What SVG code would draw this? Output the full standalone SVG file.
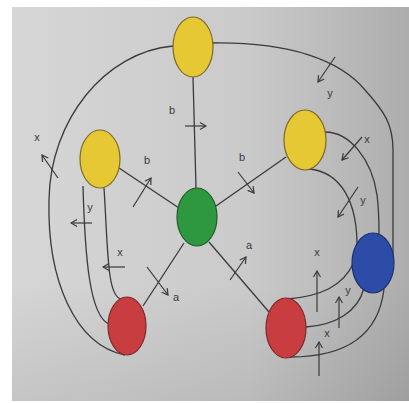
<svg xmlns="http://www.w3.org/2000/svg" width="409" height="403" viewBox="0 0 409 403">
  <style>
    .edge { fill: none; stroke: #3a3a3a; stroke-width: 1.3; }
    .flow { fill: none; stroke: #3a3a3a; stroke-width: 1.2; marker-end: url(#head); }
    .lbl { font-family: "Liberation Sans", Arial, sans-serif; font-size: 11px; fill: #3a3a3a; text-anchor: middle; }
    .yellow { fill: #e5c834; stroke: #7c6a2a; stroke-width: 1.2; }
    .green { fill: #2e9840; stroke: #215a2c; stroke-width: 1.2; }
    .blue { fill: #2d4ca8; stroke: #1e2f6e; stroke-width: 1.2; }
    .red { fill: #c83d40; stroke: #7a2a2c; stroke-width: 1.2; }
  </style>
  <defs>
    <linearGradient id="paper" x1="0" y1="0" x2="1" y2="0">
      <stop offset="0" stop-color="#d6d6d6"/>
      <stop offset="0.6" stop-color="#cacaca"/>
      <stop offset="1" stop-color="#adadad"/>
    </linearGradient>
    <linearGradient id="shade" x1="0" y1="0" x2="0" y2="1">
      <stop offset="0.7" stop-color="#000" stop-opacity="0"/>
      <stop offset="1" stop-color="#000" stop-opacity="0.08"/>
    </linearGradient>
    <marker id="head" viewBox="0 0 8 8" refX="7" refY="4" markerWidth="8" markerHeight="8" markerUnits="userSpaceOnUse" orient="auto">
      <path d="M1,0.5 L7,4 L1,7.5" fill="none" stroke="#3a3a3a" stroke-width="1.2"/>
    </marker>
  </defs>

  <!-- page -->
  <rect x="0" y="0" width="409" height="403" fill="#ffffff"/>
  <rect x="12" y="7" width="397" height="394" fill="url(#paper)"/>
  <rect x="12" y="7" width="397" height="394" fill="url(#shade)"/>

  <!-- connectors -->
  <g id="connectors">
    <!-- spokes from the centre node -->
    <line class="edge" x1="193" y1="77" x2="196" y2="188"/>
    <line class="edge" x1="119" y1="168" x2="179" y2="208"/>
    <line class="edge" x1="286" y1="157" x2="216" y2="206"/>
    <line class="edge" x1="184" y1="243" x2="143" y2="306"/>
    <line class="edge" x1="209" y1="242" x2="269" y2="312"/>

    <!-- outer loops -->
    <path class="edge" d="M173,46 C105,52 50,120 49,200 C47,280 75,345 125,355"/>
    <path class="edge" d="M213,43 C290,42 340,60 365,90 C385,112 393,125 393,150 L393,255"/>

    <!-- left side links -->
    <path class="edge" d="M83,186 C85,260 90,316 109,324"/>
    <path class="edge" d="M104,188 C108,250 107,296 121,299"/>

    <!-- right side links -->
    <path class="edge" d="M325,132 C350,132 372,160 377,195 C379,210 379,222 379,234"/>
    <path class="edge" d="M309,169 C340,172 358,200 357,250"/>
    <path class="edge" d="M288,299 C320,296 343,287 354,262"/>
    <path class="edge" d="M306,327 C335,325 358,312 364,288"/>
    <path class="edge" d="M290,357 C340,357 378,340 384,289"/>

    <!-- flow arrows -->
    <line class="flow" x1="185" y1="126" x2="206" y2="126"/>
    <line class="flow" x1="133" y1="207" x2="151" y2="178"/>
    <line class="flow" x1="238" y1="172" x2="254" y2="193"/>
    <line class="flow" x1="58" y1="178" x2="42" y2="155"/>
    <line class="flow" x1="92" y1="223" x2="71" y2="223"/>
    <line class="flow" x1="125" y1="267" x2="103" y2="267"/>
    <line class="flow" x1="147" y1="267" x2="168" y2="295"/>
    <line class="flow" x1="230" y1="280" x2="246" y2="257"/>
    <line class="flow" x1="335" y1="57" x2="318" y2="82"/>
    <line class="flow" x1="362" y1="137" x2="342" y2="160"/>
    <line class="flow" x1="358" y1="187" x2="338" y2="217"/>
    <line class="flow" x1="317" y1="312" x2="317" y2="271"/>
    <line class="flow" x1="339" y1="328" x2="339" y2="297"/>
    <line class="flow" x1="319" y1="376" x2="319" y2="342"/>

    <!-- edge labels -->
    <text class="lbl" x="172" y="114">b</text>
    <text class="lbl" x="147" y="164">b</text>
    <text class="lbl" x="242" y="161">b</text>
    <text class="lbl" x="37" y="141">x</text>
    <text class="lbl" x="90" y="211">y</text>
    <text class="lbl" x="120" y="256">x</text>
    <text class="lbl" x="176" y="301">a</text>
    <text class="lbl" x="249" y="249">a</text>
    <text class="lbl" x="330" y="97">y</text>
    <text class="lbl" x="367" y="143">x</text>
    <text class="lbl" x="363" y="204">y</text>
    <text class="lbl" x="317" y="256">x</text>
    <text class="lbl" x="348" y="294">y</text>
    <text class="lbl" x="327" y="337">x</text>
  </g>

  <!-- nodes -->
  <g id="node-top"><ellipse class="yellow" cx="193" cy="47" rx="20" ry="30"/></g>
  <g id="node-left"><ellipse class="yellow" cx="100" cy="159" rx="20" ry="29"/></g>
  <g id="node-right"><ellipse class="yellow" cx="305" cy="140" rx="21" ry="30"/></g>
  <g id="node-center"><ellipse class="green" cx="197" cy="217" rx="20" ry="29"/></g>
  <g id="node-blue"><ellipse class="blue" cx="373" cy="263" rx="21" ry="30"/></g>
  <g id="node-red-left"><ellipse class="red" cx="127" cy="326" rx="19" ry="29"/></g>
  <g id="node-red-right"><ellipse class="red" cx="286" cy="328" rx="20" ry="30"/></g>
</svg>
